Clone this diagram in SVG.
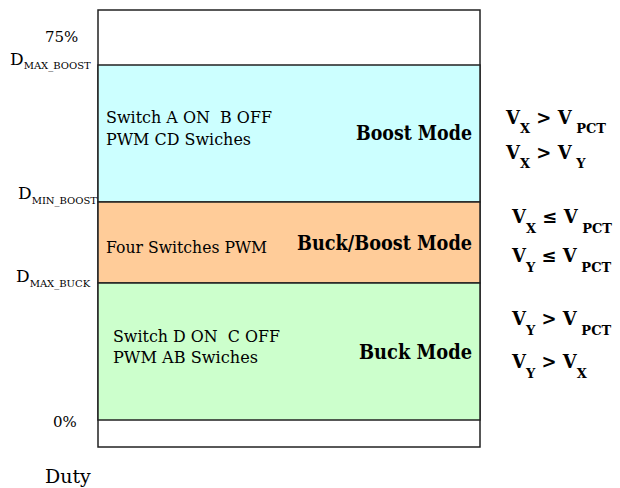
<svg xmlns="http://www.w3.org/2000/svg" width="620" height="488" viewBox="0 0 620 488">
<style>
.band{stroke:#222;stroke-width:1.5}
.t{font-family:'DejaVu Serif','Noto Serif','Liberation Serif',serif;fill:#000}
.lab{font-size:17.5px;white-space:pre}
.mode{font-size:20.5px;font-weight:bold;text-anchor:end}
.ax{font-size:15px}
.d{font-size:17px}
.sub{font-size:10px}
.v{font-size:18px;font-weight:bold;white-space:pre}
.vs{font-size:13px}
</style>
<rect x="0" y="0" width="620" height="488" fill="#fff"/>
<g id="frame">
<rect class="band" x="98" y="10" width="382" height="437" fill="#fff"/>
</g>
<g id="boost">
<rect class="band" x="98" y="65" width="382" height="137" fill="#CCFFFF"/>
<text class="t lab" x="106" y="123" textLength="166" lengthAdjust="spacingAndGlyphs">Switch A ON  B OFF</text>
<text class="t lab" x="106" y="145" textLength="145" lengthAdjust="spacingAndGlyphs">PWM CD Swiches</text>
<text class="t mode" x="472" y="140" textLength="116" lengthAdjust="spacingAndGlyphs">Boost Mode</text>
</g>
<g id="buckboost">
<rect class="band" x="98" y="202" width="382" height="81" fill="#FFCC99"/>
<text class="t lab" x="106" y="253" textLength="161" lengthAdjust="spacingAndGlyphs">Four Switches PWM</text>
<text class="t mode" x="472" y="250" textLength="175" lengthAdjust="spacingAndGlyphs">Buck/Boost Mode</text>
</g>
<g id="buck">
<rect class="band" x="98" y="283" width="382" height="137" fill="#CCFFCC"/>
<text class="t lab" x="113" y="342" textLength="167" lengthAdjust="spacingAndGlyphs">Switch D ON  C OFF</text>
<text class="t lab" x="113" y="363" textLength="145" lengthAdjust="spacingAndGlyphs">PWM AB Swiches</text>
<text class="t mode" x="472" y="359" textLength="113" lengthAdjust="spacingAndGlyphs">Buck Mode</text>
</g>
<g id="axis-labels">
<text class="t ax" x="45" y="42">75%</text>
<text class="t d" x="10" y="65">D<tspan class="sub" dy="4">MAX_BOOST</tspan></text>
<text class="t d" x="18" y="199">D<tspan class="sub" dy="5">MIN_BOOST</tspan></text>
<text class="t d" x="16" y="282">D<tspan class="sub" dy="5">MAX_BUCK</tspan></text>
<text class="t ax" x="53" y="427">0%</text>
<text class="t" x="45" y="483" font-size="19">Duty</text>
</g>
<g id="conditions">
<text class="t v" x="506" y="124">V<tspan class="vs" dy="9">X</tspan><tspan dy="-9"> &gt; V</tspan><tspan class="vs" dy="9"> PCT</tspan></text>
<text class="t v" x="506" y="159">V<tspan class="vs" dy="9">X</tspan><tspan dy="-9"> &gt; V</tspan><tspan class="vs" dy="9"> Y</tspan></text>
<text class="t v" x="512" y="223">V<tspan class="vs" dy="10">X</tspan><tspan dy="-10"> ≤ V</tspan><tspan class="vs" dy="10"> PCT</tspan></text>
<text class="t v" x="512" y="262">V<tspan class="vs" dy="10">Y</tspan><tspan dy="-10"> ≤ V</tspan><tspan class="vs" dy="10"> PCT</tspan></text>
<text class="t v" x="512" y="325">V<tspan class="vs" dy="10">Y</tspan><tspan dy="-10"> &gt; V</tspan><tspan class="vs" dy="10"> PCT</tspan></text>
<text class="t v" x="512" y="368">V<tspan class="vs" dy="10">Y</tspan><tspan dy="-10"> &gt; V</tspan><tspan class="vs" dy="10">X</tspan></text>
</g>
<g id="connectors"/>
</svg>
